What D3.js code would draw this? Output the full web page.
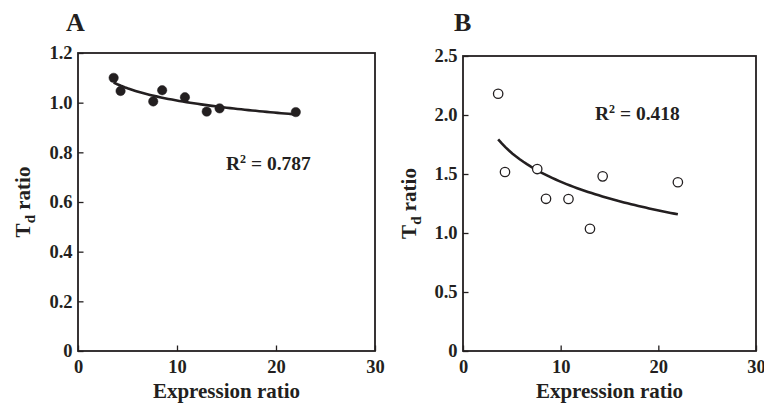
<!DOCTYPE html>
<html>
<head>
<meta charset="utf-8">
<script src="https://cdn.jsdelivr.net/npm/d3@7"></script>
<style>
  body { margin: 0; background: #fff; }
  svg text { font-family: "Liberation Serif", "Times New Roman", serif; font-weight: bold; fill: #231f20; }
</style>
</head>
<body>
<svg id="chart" width="764" height="403"></svg>
<script>
// values
var exprRatio = [3.6, 4.3, 7.6, 8.5, 10.8, 13.0, 14.3, 22.0];
var tdRatioA = [1.10, 1.047, 1.005, 1.05, 1.022, 0.964, 0.977, 0.962];
var tdRatioB = [2.18, 1.517, 1.542, 1.29, 1.288, 1.036, 1.48, 1.43];

var xTicks = [0, 10, 20, 30];
var yTicksA = [0, 0.2, 0.4, 0.6, 0.8, 1.0, 1.2];
var yTicksB = [0, 0.5, 1.0, 1.5, 2.0, 2.5];

var r2Labels = ["0.787", "0.418"];
var panelLetters = ["A", "B"];

var svg = d3.select("#chart");

// least squares fit y = a + b*ln(x)
function logFit(xs, ys) {
	var lx = xs.map(function(v) { return Math.log(v); });
	var mx = d3.mean(lx), my = d3.mean(ys);
	var sxy = 0, sxx = 0;
	for (var i = 0; i < xs.length; i++) {
		sxy += (lx[i] - mx) * (ys[i] - my);
		sxx += (lx[i] - mx) * (lx[i] - mx);
	}
	var b = sxy / sxx;
	return { a: my - b * mx, b: b };
}

function drawPanel(opt) {
	var g = svg.append("g");

	var x = d3.scaleLinear().domain([0, 30]).range([opt.left, opt.right]);
	var y = d3.scaleLinear().domain([0, opt.ymax]).range([opt.bottom, opt.top]);

	// frame
	g.append("rect")
		.attr("x", opt.left).attr("y", opt.top)
		.attr("width", opt.right - opt.left).attr("height", opt.bottom - opt.top)
		.attr("fill", "none").attr("stroke", "#231f20").attr("stroke-width", 1.8);

	// axes, ticks pointing inward
	var xAxis = d3.axisBottom(x).tickValues(xTicks).tickSizeInner(-5.5).tickSizeOuter(0).tickPadding(9)
		.tickFormat(d3.format("d"));
	var gx = g.append("g").attr("transform", "translate(0," + opt.bottom + ")").call(xAxis);
	gx.select(".domain").remove();
	gx.selectAll("line").attr("stroke", "#231f20").attr("stroke-width", 1.3);
	gx.selectAll("text").style("font-size", "18.5px").attr("fill", "#231f20");

	var yAxis = d3.axisLeft(y).tickValues(opt.yTicks).tickSizeInner(-5.5).tickSizeOuter(0).tickPadding(5.5)
		.tickFormat(function(d) { return d === 0 ? "0" : d3.format(".1f")(d); });
	var gy = g.append("g").attr("transform", "translate(" + opt.left + ",0)").call(yAxis);
	gy.select(".domain").remove();
	gy.selectAll("line").attr("stroke", "#231f20").attr("stroke-width", 1.3);
	gy.selectAll("text").style("font-size", "18.5px").attr("fill", "#231f20");

	// fitted curve
	var fit = logFit(exprRatio, opt.values);
	var x0 = d3.min(exprRatio), x1 = d3.max(exprRatio);
	var curve = d3.range(0, 51).map(function(i) {
		var xv = x0 + (x1 - x0) * i / 50;
		return [xv, fit.a + fit.b * Math.log(xv)];
	});
	g.append("path")
		.datum(curve)
		.attr("d", d3.line().x(function(d) { return x(d[0]); }).y(function(d) { return y(d[1]); }))
		.attr("fill", "none").attr("stroke", "#231f20").attr("stroke-width", 2.6);

	// points
	g.selectAll("circle.pt")
		.data(opt.values)
		.enter().append("circle")
		.attr("class", "pt")
		.attr("cx", function(d, i) { return x(exprRatio[i]); })
		.attr("cy", function(d) { return y(d); })
		.attr("r", 4.7)
		.attr("fill", opt.filled ? "#231f20" : "#fff")
		.attr("stroke", "#231f20")
		.attr("stroke-width", opt.filled ? 0.5 : 1.3);

	// R squared
	var rt = g.append("text")
		.attr("x", opt.r2x).attr("y", opt.r2y)
		.style("font-size", "19.5px");
	rt.append("tspan").text("R");
	rt.append("tspan").attr("dy", -7).style("font-size", "12px").text("2");
	rt.append("tspan").attr("dy", 7).text(" = " + opt.r2);

	// panel letter
	g.append("text")
		.attr("x", opt.letterX).attr("y", 31)
		.style("font-size", "26px")
		.text(opt.letter);

	// x title
	g.append("text")
		.attr("x", (opt.left + opt.right) / 2).attr("y", 398)
		.attr("text-anchor", "middle")
		.style("font-size", "21px")
		.text("Expression ratio");

	// y title
	var yt = g.append("text")
		.attr("transform", "translate(" + opt.ytitleX + "," + ((opt.top + opt.bottom) / 2) + ") rotate(-90)")
		.attr("text-anchor", "middle")
		.style("font-size", "21px");
	yt.append("tspan").text("T");
	yt.append("tspan").attr("dy", 5).style("font-size", "15px").text("d");
	yt.append("tspan").attr("dy", -5).text(" ratio");
}

drawPanel({
	left: 78, right: 375, top: 53, bottom: 351, ymax: 1.2, yTicks: yTicksA,
	values: tdRatioA, filled: true, r2: r2Labels[0], r2x: 226, r2y: 170,
	letter: panelLetters[0], letterX: 66, ytitleX: 30
});

drawPanel({
	left: 463, right: 756, top: 56, bottom: 351, ymax: 2.5, yTicks: yTicksB,
	values: tdRatioB, filled: false, r2: r2Labels[1], r2x: 595, r2y: 120,
	letter: panelLetters[1], letterX: 454, ytitleX: 416
});
</script>
</body>
</html>
